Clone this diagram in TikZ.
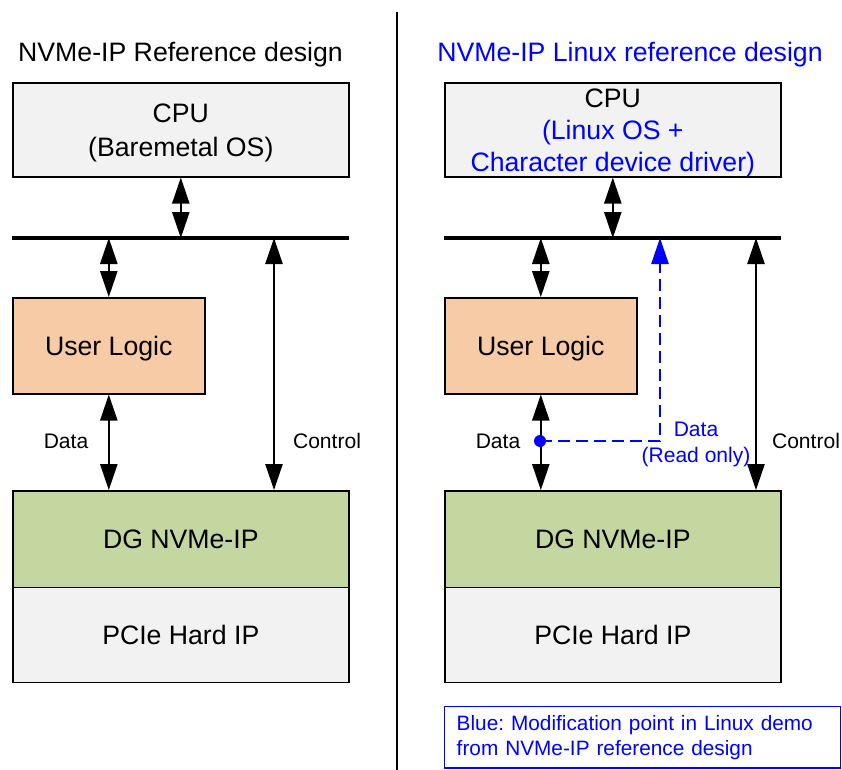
\documentclass[tikz,border=0pt]{standalone}
\usepackage{fontspec}
\setmainfont{Liberation Sans}
\usetikzlibrary{arrows.meta}
\definecolor{boxgray}{HTML}{F2F2F2}
\definecolor{peach}{HTML}{F8CBA7}
\definecolor{nvgreen}{HTML}{C4D7A0}
\definecolor{myblue}{HTML}{0000FF}
\tikzset{
  blk/.style={draw=black, line width=1.2pt, inner sep=0pt, anchor=north west},
  bigtxt/.style={font=\fontsize{20}{25}\selectfont},
  onel/.style={bigtxt, text height=14.3pt, text depth=0pt},
  lbl/.style={font=\fontsize{15.8}{18}\selectfont},
  bus/.style={line width=2.3pt},
  bigtip/.tip={Triangle[length=19.5pt,width=13pt]},
  conn/.style={line width=1.1pt, bigtip-bigtip},
  bconn/.style={myblue, line width=1.1pt, dash pattern=on 9pt off 4.5pt, -bigtip},
}
\begin{document}
\frenchspacing
\begin{tikzpicture}[x=0.75pt,y=-0.75pt]
\useasboundingbox (0,0) rectangle (842,770);
% divider
\draw[line width=1.2pt] (397,12) -- (397,770);
% titles
\node[bigtxt] (titleL) at (180.5,55) {NVMe-IP Reference design};
\node[bigtxt, text=myblue] (titleR) at (630,55) {NVMe-IP Linux reference design};

% ---------- left ----------
\node[blk, fill=boxgray, minimum width=252pt, minimum height=70.5pt,
      label={[align=center, yshift=-2.5pt, font=\fontsize{20}{25.5}\selectfont]center:CPU\\(Baremetal OS)}] (cpuL) at (12,82) {};
\coordinate (busLa) at (12,238);
\coordinate (busLb) at (349,238);
\draw[bus] (busLa) -- (busLb);
\node[blk, fill=peach, minimum width=144pt, minimum height=72pt, onel] (ulL) at (12,297) {User Logic};
\node[blk, fill=nvgreen, minimum width=252pt, minimum height=72.5pt, onel] (nvL) at (12,490) {DG NVMe-IP};
\node[blk, fill=boxgray, minimum width=252pt, minimum height=71.5pt, onel] (pcL) at (12,586.5) {PCIe Hard IP};
\coordinate (ctlLtop) at (274,238);
\coordinate (ctlLbot) at (274,490);
\draw[conn] (cpuL.south) -- (cpuL.south |- busLa);
\draw[conn] (ulL.north |- busLa) -- (ulL.north);
\draw[conn] (ulL.south) -- (ulL.south |- nvL.north);
\draw[conn] (ctlLtop) -- (ctlLbot);
\node[lbl] (dataL) at (66,441) {Data};
\node[lbl] (ctlL) at (327,441) {Control};

% ---------- right ----------
\node[blk, fill=boxgray, minimum width=252pt, minimum height=70.5pt,
      label={[align=center, yshift=-2pt, font=\fontsize{20}{24}\selectfont]center:CPU\\\textcolor{myblue}{(Linux OS +}\\\textcolor{myblue}{Character device driver)}}] (cpuR) at (444,82) {};
\coordinate (busRa) at (444,238);
\coordinate (busRb) at (781,238);
\draw[bus] (busRa) -- (busRb);
\node[blk, fill=peach, minimum width=144pt, minimum height=72pt, onel] (ulR) at (444,297) {User Logic};
\node[blk, fill=nvgreen, minimum width=252pt, minimum height=72.5pt, onel] (nvR) at (444,490) {DG NVMe-IP};
\node[blk, fill=boxgray, minimum width=252pt, minimum height=71.5pt, onel] (pcR) at (444,586.5) {PCIe Hard IP};
\coordinate (ctlRtop) at (756,238);
\coordinate (ctlRbot) at (756,490);
\draw[conn] (cpuR.south) -- (cpuR.south |- busRa);
\draw[conn] (ulR.north |- busRa) -- (ulR.north);
\draw[conn] (ulR.south) -- (ulR.south |- nvR.north);
\draw[conn] (ctlRtop) -- (ctlRbot);
\node[lbl] (dataR) at (498,441) {Data};
\node[lbl] (ctlR) at (806,441) {Control};
% blue read-only path
\coordinate (dot) at (540,441);
\coordinate (corner) at (660,441);
\coordinate (rdtop) at (660,238);
\draw[bconn] (dot) -- (corner) -- (rdtop);
\fill[myblue] (dot) circle (6);
\node[text=myblue, align=center, font=\fontsize{15.8}{19.5}\selectfont] (rdlbl) at (696,444.5) {Data\\(Read only)};

% legend
\node[draw=myblue, line width=1.1pt, anchor=north west, minimum width=297pt, minimum height=46pt,
      text=myblue, align=left, inner xsep=9pt, text width=279pt,
      font=\fontsize{15.6}{18.75}\selectfont] (legend) at (444,706) {Blue: Modification point in Linux demo\\from NVMe-IP reference design};
\end{tikzpicture}
\end{document}
